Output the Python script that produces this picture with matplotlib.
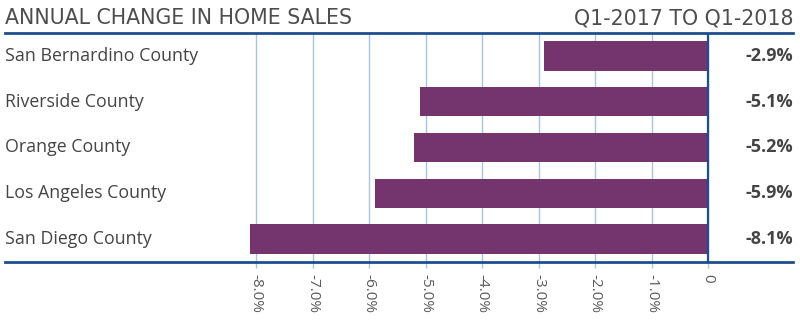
import matplotlib.pyplot as plt
from matplotlib import transforms

# data
counties = ['San Bernardino County', 'Riverside County', 'Orange County',
            'Los Angeles County', 'San Diego County']
changes = [-2.9, -5.1, -5.2, -5.9, -8.1]
value_labels = ['-2.9%', '-5.1%', '-5.2%', '-5.9%', '-8.1%']
ticks = [-8, -7, -6, -5, -4, -3, -2, -1, 0]
tick_labels = ['-8.0%', '-7.0%', '-6.0%', '-5.0%', '-4.0%', '-3.0%', '-2.0%', '-1.0%', '0']

# colours
purple = '#74346D'
navy = '#1F4E8D'
grid_blue = '#A9C4DE'
text_gray = '#444444'

plt.rcParams['font.family'] = ['Open Sans', 'DejaVu Sans']

fig = plt.figure(figsize=(8, 3.35), dpi=100)
ax = fig.add_axes([0.00625, 0.218, 0.985, 0.6836])

ypos = list(range(len(counties)))
ax.barh(ypos, changes, height=0.64, color=purple, zorder=3)
ax.set_ylim(len(counties) - 0.5, -0.5)
ax.set_xlim(-12.44, 1.5)

ax.set_xticks(ticks)
ax.set_xticklabels(tick_labels, rotation=270, fontsize=11, color='#5a5a5a')
ax.tick_params(axis='x', direction='out', length=4, width=1, color=grid_blue, pad=5)
ax.set_yticks([])
ax.grid(axis='x', color=grid_blue, lw=1, zorder=1)
ax.axvline(0, color=navy, lw=1.6, zorder=4)
ax.get_xticklines()[-2].set_color(navy)

for s in ['left', 'right']:
    ax.spines[s].set_visible(False)
for s in ['top', 'bottom']:
    ax.spines[s].set_color(navy)
    ax.spines[s].set_linewidth(2)
    ax.spines[s].set_zorder(5)

# labels
trans = transforms.blended_transform_factory(ax.transAxes, ax.transData)
for i, name in enumerate(counties):
    ax.text(0.0, i, name, transform=trans, ha='left', va='center',
            fontsize=12.8, color=text_gray)
    ax.text(1.0, i, value_labels[i], transform=trans, ha='right', va='center',
            fontsize=13, fontweight='bold', color=text_gray)

# headers
fig.text(5 / 800, 0.927, 'ANNUAL CHANGE IN HOME SALES', ha='left', va='baseline',
         fontsize=14.8, color='#4d4d4d', family='DejaVu Sans')
fig.text(793 / 800, 0.927, 'Q1-2017 TO Q1-2018', ha='right', va='baseline',
         fontsize=14.8, color='#4d4d4d', family='DejaVu Sans')

fig.savefig('out.png', dpi=100)
